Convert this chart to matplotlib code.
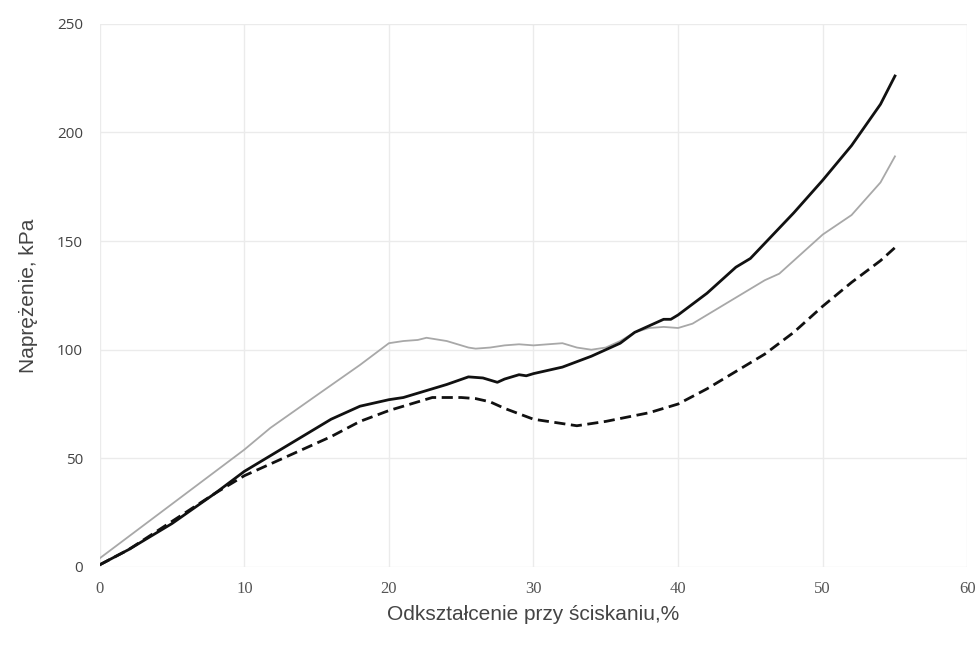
import matplotlib.pyplot as plt

# odczyty z wykresu (odkształcenie %, naprężenie kPa)
x_solid = [0, 2, 5, 8, 10, 12, 14, 15, 16, 18, 20, 21, 22, 24, 25.5, 26.5, 27, 27.5, 28, 29, 29.5,
           30, 32, 34, 36, 37, 38, 39, 39.5, 40, 42, 44, 45, 46, 48, 50, 52, 54, 55]
y_solid = [1, 8, 20, 34, 44, 52, 60, 64, 68, 74, 77, 78, 80, 84, 87.5, 87, 86, 85, 86.5, 88.5, 88,
           89, 92, 97, 103, 108, 111, 114, 114, 116, 126, 138, 142, 149, 163, 178, 194, 213, 226]

x_gray = [0, 5, 10, 11.8, 15, 18, 20, 21, 22, 22.6, 24, 25.5, 26, 27, 28, 29, 30, 31, 32, 33, 34,
          35, 36, 37, 38, 39, 40, 41, 42, 44, 46, 47, 48, 50, 52, 54, 55]
y_gray = [4, 29, 54, 64, 79, 93, 103, 104, 104.5, 105.5, 104, 101, 100.5, 101, 102, 102.5, 102,
          102.5, 103, 101, 100, 101, 104, 108, 110, 110.5, 110, 112, 116, 124, 132, 135, 141,
          153, 162, 177, 189]

x_dash = [0, 2, 5, 8, 10, 12, 14, 16, 18, 20, 22, 23, 24, 25, 26, 27, 28, 30, 32, 33, 35, 38,
          40, 42, 44, 46, 48, 50, 52, 54, 55]
y_dash = [1, 8, 21, 34, 42, 48, 54, 60, 67, 72, 76, 78, 78, 78, 77.5, 76, 73, 68, 66, 65, 67, 71,
          75, 82, 90, 98, 108, 120, 131, 141, 147]

x_ticks = [0, 10, 20, 30, 40, 50, 60]
y_ticks = [0, 50, 100, 150, 200, 250]

fig = plt.figure(figsize=(9.78, 6.45), dpi=100)
ax = fig.add_axes([0.102, 0.121, 0.887, 0.842])

ax.plot(x_gray, y_gray, color='#a8a8a8', linewidth=1.3)
ax.plot(x_solid, y_solid, color='#111111', linewidth=2.0)
ax.plot(x_dash, y_dash, color='#111111', linewidth=2.0, linestyle=(0, (4, 2)))

ax.set_xlim(0, 60)
ax.set_ylim(0, 250)
ax.set_xticks(x_ticks)
ax.set_yticks(y_ticks)
ax.grid(True, color='#ebebeb', linewidth=1.0)
ax.set_axisbelow(True)
for s in ax.spines.values():
    s.set_visible(False)
ax.tick_params(length=0)
ax.tick_params(axis='x', pad=10)
ax.tick_params(axis='y', pad=12)

for lab in ax.get_xticklabels():
    lab.set_fontfamily('Liberation Serif')
    lab.set_fontsize(12)
    lab.set_color('#555555')
for lab in ax.get_yticklabels():
    lab.set_fontfamily('Open Sans')
    lab.set_fontsize(11)
    lab.set_color('#444444')

ax.set_xlabel("Odkształcenie przy ściskaniu,%", fontsize=15, family='Liberation Sans',
              color='#444444', labelpad=6)
ax.set_ylabel("Naprężenie, kPa", fontsize=15, family='Liberation Sans',
              color='#444444', labelpad=14)

fig.savefig("out.png", dpi=100)
plt.close(fig)
